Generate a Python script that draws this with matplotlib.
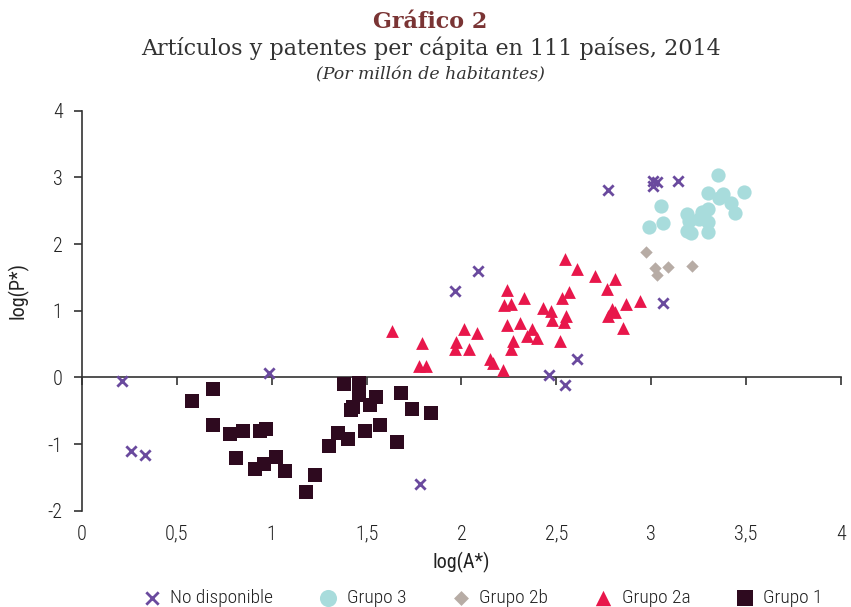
import matplotlib
matplotlib.use("Agg")
import matplotlib.pyplot as plt
import numpy as np

# ---- data ----
g1_x = [0.58, 0.69, 0.69, 0.78, 0.85, 0.94, 0.97, 0.81, 0.91, 0.96, 1.02, 1.07, 1.23, 1.18, 1.30,
        1.35, 1.40, 1.49, 1.57, 1.66, 1.38, 1.46, 1.46, 1.55, 1.52, 1.43, 1.42, 1.68, 1.74, 1.84]
g1_y = [-0.36, -0.18, -0.71, -0.85, -0.80, -0.81, -0.77, -1.21, -1.38, -1.30, -1.19, -1.40, -1.46, -1.72, -1.03,
        -0.83, -0.92, -0.81, -0.71, -0.97, -0.10, -0.08, -0.26, -0.29, -0.42, -0.44, -0.49, -0.23, -0.47, -0.54]

g2a_x = [1.635, 1.79, 1.775, 1.815, 1.97, 1.965, 2.015, 2.08, 2.04, 2.15, 2.165, 2.22, 2.24, 2.225,
         2.26, 2.33, 2.24, 2.31, 2.37, 2.345, 2.40, 2.27, 2.26, 2.43, 2.47, 2.48, 2.55, 2.54, 2.52,
         2.53, 2.565, 2.545, 2.61, 2.705, 2.81, 2.77, 2.795, 2.81, 2.775, 2.87, 2.94, 2.85]
g2a_y = [0.69, 0.51, 0.17, 0.17, 0.53, 0.43, 0.72, 0.67, 0.42, 0.28, 0.22, 0.11, 1.31, 1.08,
         1.10, 1.19, 0.78, 0.81, 0.72, 0.62, 0.59, 0.55, 0.42, 1.04, 1.00, 0.86, 0.92, 0.83, 0.55,
         1.19, 1.28, 1.78, 1.62, 1.52, 1.47, 1.33, 1.03, 0.98, 0.92, 1.10, 1.15, 0.74]

g2b_x = [2.975, 3.02, 3.03, 3.09, 3.215]
g2b_y = [1.88, 1.64, 1.53, 1.65, 1.67]

g3_x = [3.355, 3.49, 3.30, 3.38, 3.36, 3.42, 3.44, 3.05, 3.065, 2.99, 3.19, 3.20, 3.19, 3.21,
        3.27, 3.30, 3.25, 3.30, 3.30]
g3_y = [3.03, 2.78, 2.76, 2.75, 2.69, 2.61, 2.47, 2.57, 2.31, 2.25, 2.45, 2.34, 2.20, 2.16,
        2.48, 2.53, 2.38, 2.33, 2.18]

nd_x = [0.21, 0.26, 0.33, 0.985, 1.78, 1.965, 2.09, 2.46, 2.545, 2.61, 3.065, 2.775, 3.01, 3.03, 3.01, 3.14]
nd_y = [-0.05, -1.10, -1.16, 0.06, -1.60, 1.29, 1.60, 0.04, -0.11, 0.27, 1.12, 2.81, 2.94, 2.93, 2.87, 2.95]

x_ticks = [0, 0.5, 1, 1.5, 2, 2.5, 3, 3.5, 4]
x_ticklabels = ["0", "0,5", "1", "1,5", "2", "2,5", "3", "3,5", "4"]
y_ticks = [-2, -1, 0, 1, 2, 3, 4]
y_ticklabels = ["-2", "-1", "0", "1", "2", "3", "4"]

# ---- style ----
SANS = ["Roboto Condensed", "Liberation Sans Narrow", "Liberation Sans", "DejaVu Sans"]
SERIF = ["DejaVu Serif"]
plt.rcParams["font.family"] = SANS
plt.rcParams["font.weight"] = "light"
TXT = "#222222"

fig = plt.figure(figsize=(8.51, 6.07), dpi=100)
ax = fig.add_axes([0.0964, 0.1587, 0.8916, 0.6589])

ax.scatter(g1_x, g1_y, marker="s", s=95, color="#2e0a1f", linewidths=0, zorder=3, label="Grupo 1")
ax.scatter(g2a_x, g2a_y, marker="^", s=85, color="#e8174b", linewidths=0, zorder=3, label="Grupo 2a")
ax.scatter(g2b_x, g2b_y, marker="D", s=40, color="#b7aca5", linewidths=0, zorder=3, label="Grupo 2b")
ax.scatter(g3_x, g3_y, marker="o", s=105, color="#a8dcdc", linewidths=0, zorder=3, label="Grupo 3")
ax.scatter(nd_x, nd_y, marker="x", s=55, color="#6a4a9e", linewidths=2.0, zorder=4, label="No disponible")

ax.set_xlim(0, 4)
ax.set_ylim(-2, 4)

for s in ["top", "right", "bottom"]:
    ax.spines[s].set_visible(False)
ax.spines["left"].set_color("#333333")
ax.spines["left"].set_linewidth(1.2)

ax.set_xticks(x_ticks)
ax.set_xticklabels(x_ticklabels)
ax.set_yticks(y_ticks)
ax.set_yticklabels(y_ticklabels)
ax.tick_params(axis="x", length=0, pad=10, labelsize=14.5, labelcolor=TXT)
ax.tick_params(axis="y", length=6, width=1.2, color="#333333", pad=8, labelsize=14.5, labelcolor=TXT)

# zero line axis with ticks
sec = ax.secondary_xaxis(1/3)
sec.set_xticks(x_ticks)
sec.tick_params(axis="x", length=6, width=1.2, color="#333333", labelbottom=False)
sec.spines["bottom"].set_color("#333333")
sec.spines["bottom"].set_linewidth(1.2)

ax.set_xlabel("log(A*)", fontsize=14.5, color=TXT, labelpad=6)
ax.set_ylabel("log(P*)", fontsize=14.5, color=TXT)
ax.yaxis.set_label_coords(-0.07, 0.55)

# titles
fig.text(0.506, 0.963, "Gráfico 2", family=SERIF, fontsize=16, fontweight="bold",
         color="#7a3434", ha="center", va="center")
fig.text(0.506, 0.920, "Artículos y patentes per cápita en 111 países, 2014", family=SERIF,
         fontsize=16, color="#333333", ha="center", va="center")
fig.text(0.506, 0.877, "(Por millón de habitantes)", family=SERIF, fontsize=12.5, style="italic",
         color="#333333", ha="center", va="center")

handles, labels = ax.get_legend_handles_labels()
order = [4, 3, 2, 1, 0]
fig.legend([handles[i] for i in order], [labels[i] for i in order], loc="center",
           bbox_to_anchor=(0.567, 0.015), ncol=5, frameon=False, fontsize=14,
           handlelength=1.0, handletextpad=0.45, columnspacing=2.32, labelcolor=TXT,
           markerscale=1.2)

fig.savefig("out.png", dpi=100)
